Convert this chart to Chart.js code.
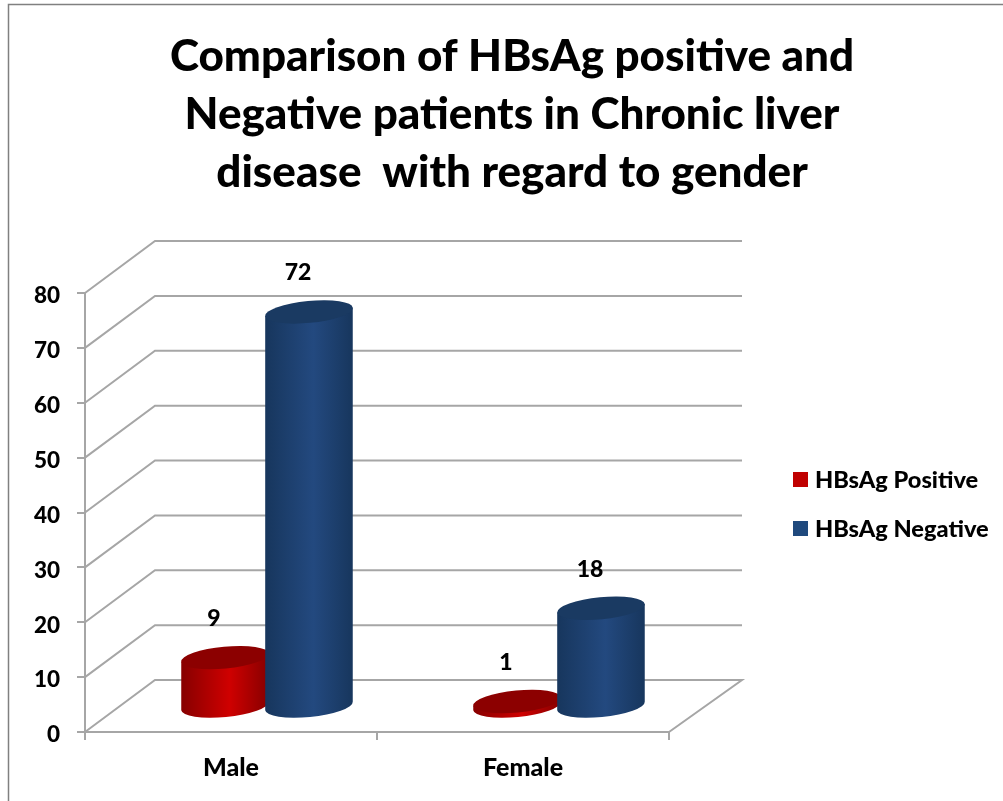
<!DOCTYPE html>
<html>
<head>
<meta charset="utf-8">
<title>HBsAg by gender</title>
<script src="https://cdn.jsdelivr.net/npm/chart.js@4"></script>
<style>
  html, body { margin: 0; background: #fff; }
  canvas { display: block; }
</style>
</head>
<body>
<canvas id="grafico" width="1003" height="801"></canvas>
<script>
const categories = ['Male', 'Female']
const positive_values = [9, 1]
const negative_values = [72, 18]
const y_ticks_max = 80
const y_ticks_step = 10
const title_lines = [
    'Comparison of HBsAg positive and',
    'Negative patients in Chronic liver',
    'disease  with regard to gender'
]

const font_name = 'Lato, sans-serif'
const grid_color = '#a6a6a6'
const red = { edge: '#860000', mid: '#cf0000', top: '#8c0000', key: '#c00000' }
const blue = { edge: '#17365d', mid: '#23497f', top: '#1a3a62', key: '#1f497d' }

// depth of the fake 3D box
const wall_dx = 72
const wall_dy = -52
const bar_dx = 36
const bar_dy = -25
const tilt = -5.5 * Math.PI / 180
const ellipse_ry = 11

function cylinder(ctx, x, top, base, rx, colors) {
    const grad = ctx.createLinearGradient(x - rx, 0, x + rx, 0)
    grad.addColorStop(0, colors.edge)
    grad.addColorStop(0.55, colors.mid)
    grad.addColorStop(1, colors.edge)
    const cos = Math.cos(tilt) * rx
    const sin = Math.sin(tilt) * rx
    ctx.beginPath()
    ctx.ellipse(x, base, rx, ellipse_ry, tilt, Math.PI, 0, true)
    ctx.lineTo(x + cos, top + sin)
    ctx.lineTo(x - cos, top - sin)
    ctx.closePath()
    ctx.fillStyle = grad
    ctx.fill()
    ctx.beginPath()
    ctx.ellipse(x, top, rx, ellipse_ry, tilt, 0, Math.PI * 2)
    ctx.fillStyle = colors.top
    ctx.fill()
}

const box_3d = {
    id: 'box_3d',
    afterLayout(chart) {
        // title is centred over the whole picture, not only the plot side
        chart.titleBlock.left = 21
        chart.titleBlock.right = 1003
    },
    beforeDraw(chart) {
        const ctx = chart.ctx
        ctx.save()
        ctx.strokeStyle = '#808080'
        ctx.lineWidth = 1.5
        ctx.beginPath()
        ctx.moveTo(8.5, 801)
        ctx.lineTo(8.5, 4.5)
        ctx.lineTo(1003, 4.5)
        ctx.stroke()
        ctx.restore()
    },
    beforeDatasetsDraw(chart) {
        const { ctx, chartArea, scales } = chart
        ctx.save()
        ctx.strokeStyle = grid_color
        ctx.lineWidth = 2
        scales.y.ticks.forEach(function (tick) {
            const y = scales.y.getPixelForValue(tick.value)
            ctx.beginPath()
            ctx.moveTo(chartArea.left, y)
            ctx.lineTo(chartArea.left + wall_dx - 2, y + wall_dy)
            ctx.lineTo(chartArea.right + wall_dx + 1, y + wall_dy)
            if (tick.value === 0) {
                ctx.lineTo(chartArea.right, y)
            }
            ctx.stroke()
        })
        ctx.restore()
    },
    afterDatasetsDraw(chart) {
        const ctx = chart.ctx
        const colors = [red, blue]
        ctx.save()
        chart.data.datasets.forEach(function (dataset, i) {
            chart.getDatasetMeta(i).data.forEach(function (bar) {
                cylinder(ctx, bar.x + bar_dx, bar.y + bar_dy, bar.base + bar_dy, bar.width / 2 + 2, colors[i])
            })
        })
        ctx.fillStyle = '#000'
        ctx.font = '900 23px ' + font_name
        ctx.textAlign = 'center'
        ctx.textBaseline = 'middle'
        chart.data.datasets.forEach(function (dataset, i) {
            chart.getDatasetMeta(i).data.forEach(function (bar, j) {
                ctx.fillText(dataset.data[j], bar.x + bar_dx - 11, bar.y + bar_dy - 39)
            })
        })
        // legend
        ctx.font = '900 23.6px ' + font_name
        ctx.textAlign = 'left'
        chart.data.datasets.forEach(function (dataset, i) {
            const y = 479.5 + i * 49
            ctx.fillStyle = colors[i].key
            ctx.fillRect(793, y - 7.5, 15, 15)
            ctx.fillStyle = '#000'
            ctx.fillText(dataset.label, 815, y + 1)
        })
        ctx.restore()
    }
}

const grafico = new Chart(document.querySelector('#grafico'), {
    type: 'bar',
    data: {
        labels: categories,
        datasets: [
            { label: 'HBsAg Positive', data: positive_values, backgroundColor: 'transparent' },
            { label: 'HBsAg Negative', data: negative_values, backgroundColor: 'transparent' }
        ]
    },
    options: {
        responsive: false,
        animation: false,
        categoryPercentage: 0.575,
        barPercentage: 1,
        layout: { padding: { right: 334 } },
        plugins: {
            legend: { display: false },
            tooltip: { enabled: false },
            title: {
                display: true,
                text: title_lines,
                color: '#000',
                font: { family: font_name, size: 44, weight: '900', lineHeight: 58 / 44 },
                padding: { top: 28, bottom: 91 }
            }
        },
        scales: {
            x: {
                afterFit(scale) { scale.height = 69 },
                grid: { drawOnChartArea: false, color: grid_color, lineWidth: 2, tickLength: 8 },
                border: { color: grid_color, width: 2 },
                ticks: { color: '#000', padding: 13, font: { family: font_name, size: 25, weight: '900' } }
            },
            y: {
                min: 0,
                max: y_ticks_max,
                afterFit(scale) { scale.width = 85 },
                grid: { drawOnChartArea: false, color: grid_color, lineWidth: 2, tickLength: 8 },
                border: { color: grid_color, width: 2 },
                ticks: { stepSize: y_ticks_step, color: '#000', padding: 17, labelOffset: 3, font: { family: font_name, size: 22.5, weight: '900' } }
            }
        }
    },
    plugins: [box_3d]
})
</script>
</body>
</html>
